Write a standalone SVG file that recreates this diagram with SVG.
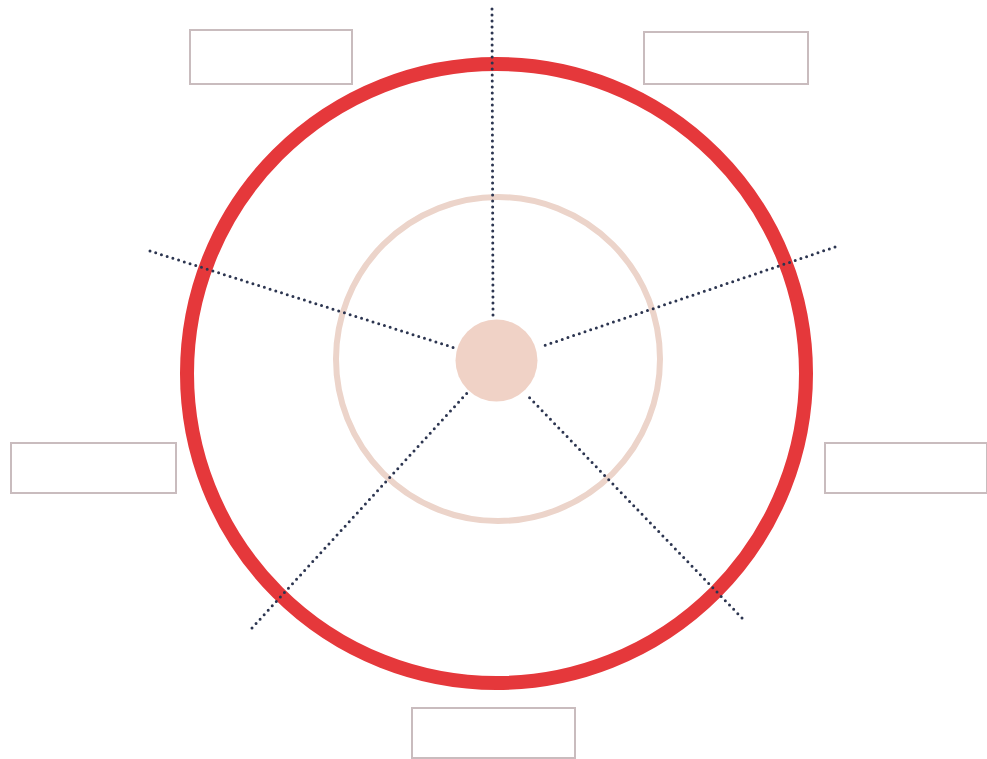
<svg xmlns="http://www.w3.org/2000/svg" width="987" height="759" viewBox="0 0 987 759">
<style>
.box{fill:#fff;stroke:#c9bcbe;stroke-width:2}
.dot{stroke:#2c3550;stroke-width:3;stroke-linecap:round;stroke-dasharray:0 6;fill:none}
</style>
<rect width="987" height="759" fill="#fff"/>
<g id="outer-ring"><circle cx="496.5" cy="373.5" r="309.5" fill="none" stroke="#e5383b" stroke-width="14"/></g>
<g id="inner-ring"><circle cx="498" cy="359" r="162" fill="none" stroke="#ecd4ca" stroke-width="6"/></g>
<g id="connectors">
<line class="dot" x1="492" y1="9" x2="493" y2="315"/>
<line class="dot" x1="150" y1="251" x2="455" y2="348"/>
<line class="dot" x1="835" y1="247" x2="540" y2="347"/>
<line class="dot" x1="252" y1="628" x2="467" y2="393"/>
<line class="dot" x1="742" y1="618" x2="527" y2="395"/>
</g>
<g id="center"><circle cx="496.5" cy="360.5" r="41" fill="#f0d2c6"/></g>
<g id="box-top-left"><rect class="box" x="190" y="30" width="162" height="54"/></g>
<g id="box-top-right"><rect class="box" x="644" y="32" width="164" height="52"/></g>
<g id="box-left"><rect class="box" x="11" y="443" width="165" height="50"/></g>
<g id="box-right"><rect class="box" x="825" y="443" width="162" height="50"/></g>
<g id="box-bottom"><rect class="box" x="412" y="708" width="163" height="50"/></g>
</svg>
